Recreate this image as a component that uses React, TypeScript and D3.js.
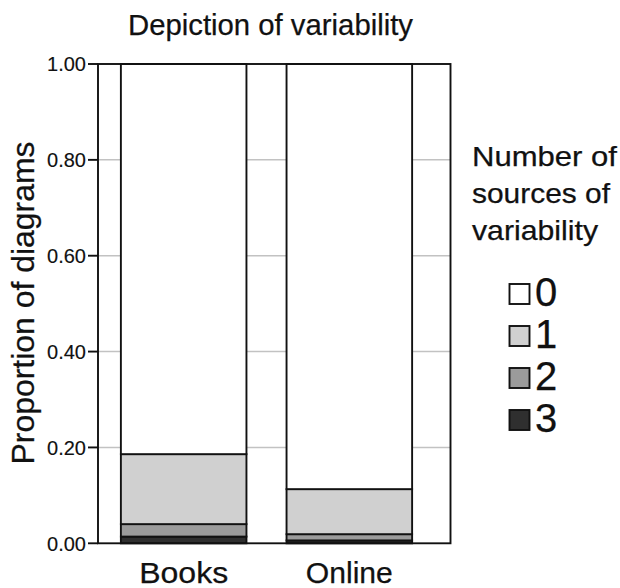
import { format, scaleBand, scaleLinear, scaleOrdinal, stack } from "d3";

const categories = ["Books", "Online"];
const sourceKeys = ["0", "1", "2", "3"];
const zeroSources = [0.814, 0.887];
const oneSource = [0.146, 0.094];
const twoSources = [0.026, 0.013];
const threeSources = [0.014, 0.006];
const yTicks = [0, 0.2, 0.4, 0.6, 0.8, 1];
const legendTitle = ["Number of", "sources of", "variability"];

const rows = categories.map((name, i) => ({
  name,
  "0": zeroSources[i],
  "1": oneSource[i],
  "2": twoSources[i],
  "3": threeSources[i],
}));

export default function App() {
  const width = 620;
  const height = 588;
  const frameLeft = 98;
  const frameRight = 450.5;
  const frameTop = 64;
  const frameBottom = 543.3;
  const font = "'Liberation Sans', Arial, sans-serif";
  const ink = "#111";
  // the reference text is a touch heavier than plain Liberation Sans
  const textWeight = { stroke: ink, strokeWidth: 0.25 };

  const y = scaleLinear().domain([0, 1]).range([frameBottom, frameTop]);
  const x = scaleBand()
    .domain(categories)
    .range([101, 432])
    .paddingInner(0.242)
    .paddingOuter(0.12);

  const fill = scaleOrdinal<string, string>()
    .domain(sourceKeys)
    .range(["#ffffff", "#d0d0d0", "#9b9b9b", "#2f2f2f"]);

  // stacked from the bottom: 3 sources first, 0 sources on top
  const series = stack<any>().keys([...sourceKeys].reverse())(rows);
  const fmt = format(".2f");

  return (
    <svg
      width={width}
      height={height}
      style={{ position: "absolute", left: 0, top: 0, background: "#fff" }}
      fontFamily={font}
    >
      <text
        x={270.5}
        y={35}
        textAnchor="middle"
        fontSize="30"
        textLength={285}
        lengthAdjust="spacingAndGlyphs"
        fill={ink}
        {...textWeight}
      >
        Depiction of variability
      </text>

      {yTicks
        .filter((t) => t > 0 && t < 1)
        .map((t) => (
          <line
            key={`g${t}`}
            x1={frameLeft}
            x2={frameRight}
            y1={y(t)}
            y2={y(t)}
            stroke="#c2c2c2"
            strokeWidth="1.5"
          />
        ))}

      {series.map((s) =>
        s.map((d, i) => (
          <rect
            key={`${s.key}-${i}`}
            x={x(categories[i]) ?? 0}
            y={y(d[1])}
            width={x.bandwidth()}
            height={y(d[0]) - y(d[1])}
            fill={fill(s.key)}
            stroke={ink}
            strokeWidth="1.9"
          />
        ))
      )}

      <rect
        x={frameLeft}
        y={frameTop}
        width={frameRight - frameLeft}
        height={frameBottom - frameTop}
        fill="none"
        stroke={ink}
        strokeWidth="1.9"
      />

      {yTicks.map((t) => (
        <g key={`t${t}`}>
          <line x1={88} x2={frameLeft} y1={y(t)} y2={y(t)} stroke={ink} strokeWidth="1.9" />
          <text
            x={86}
            y={y(t)}
            dy="0.36em"
            textAnchor="end"
            fontSize="20"
            fill={ink}
            stroke={ink}
            strokeWidth="0.15"
          >
            {fmt(t)}
          </text>
        </g>
      ))}

      <text
        transform={`translate(34, 303) rotate(-90)`}
        textAnchor="middle"
        fontSize="31"
        textLength={323}
        lengthAdjust="spacingAndGlyphs"
        fill={ink}
        {...textWeight}
      >
        Proportion of diagrams
      </text>

      {categories.map((c, i) => (
        <text
          key={c}
          x={(x(c) ?? 0) + x.bandwidth() / 2}
          y={583}
          textAnchor="middle"
          fontSize="29"
          textLength={i === 0 ? 89 : 87}
          lengthAdjust="spacingAndGlyphs"
          fill={ink}
          {...textWeight}
        >
          {c}
        </text>
      ))}

      {legendTitle.map((line, i) => (
        <text
          key={line}
          x={472}
          y={166 + i * 37}
          fontSize="28"
          textLength={[145, 138, 126][i]}
          lengthAdjust="spacingAndGlyphs"
          fill={ink}
          {...textWeight}
        >
          {line}
        </text>
      ))}

      {sourceKeys.map((k, i) => {
        const top = 284 + i * 42;
        return (
          <g key={`l${k}`}>
            <rect
              x={509.5}
              y={top}
              width={20}
              height={20}
              fill={fill(k)}
              stroke={ink}
              strokeWidth="1.9"
            />
            <text x={535} y={top + 22} fontSize="40" fill={ink} {...textWeight}>
              {k}
            </text>
          </g>
        );
      })}
    </svg>
  );
}
